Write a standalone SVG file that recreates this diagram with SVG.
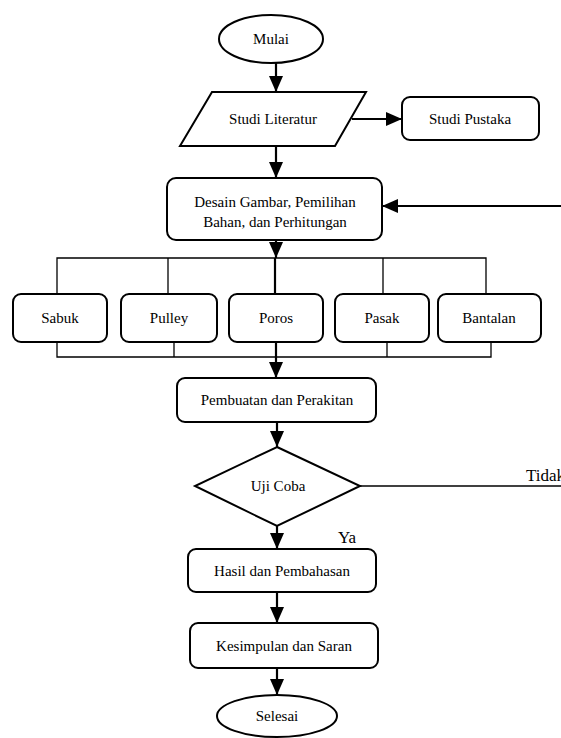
<svg xmlns="http://www.w3.org/2000/svg" width="561" height="738" viewBox="0 0 561 738">
<style>
.n{fill:#fff;stroke:#000;stroke-width:2}
.t{font-family:"Liberation Serif","Times New Roman",serif;font-size:15px;fill:#000;text-anchor:middle}
.lbl{font-family:"Liberation Serif","Times New Roman",serif;font-size:17px;fill:#000}
.c{fill:none;stroke:#000;stroke-width:2.2}
.b{fill:none;stroke:#000;stroke-width:1.3}
</style>
<defs>
<marker id="ah" viewBox="0 0 16 14" refX="16" refY="7" markerWidth="16" markerHeight="14" orient="auto" markerUnits="userSpaceOnUse">
<path d="M0,0 L16,7 L0,14 z" fill="#000"/>
</marker>
</defs>
<rect width="561" height="738" fill="#fff"/>
<g id="connectors">
<line class="c" x1="276" y1="63" x2="276" y2="92" marker-end="url(#ah)"/>
<line class="c" x1="352" y1="119" x2="402" y2="119" marker-end="url(#ah)"/>
<line class="c" x1="276" y1="146" x2="276" y2="178" marker-end="url(#ah)"/>
<line class="c" x1="561" y1="206" x2="382" y2="206" marker-end="url(#ah)"/>
<line class="c" x1="276" y1="240" x2="276" y2="258" marker-end="url(#ah)"/>
<polyline class="b" points="57,294 57,258 486,258 486,294"/>
<line class="b" x1="168" y1="258" x2="168" y2="294"/>
<line class="c" x1="275" y1="258" x2="275" y2="294"/>
<line class="b" x1="383" y1="258" x2="383" y2="294"/>
<polyline class="b" points="57,342 57,357 491,357 491,342"/>
<line class="b" x1="174" y1="342" x2="174" y2="357"/>
<line class="b" x1="387" y1="342" x2="387" y2="357"/>
<line class="c" x1="276" y1="342" x2="276" y2="378" marker-end="url(#ah)"/>
<line class="c" x1="277" y1="422" x2="277" y2="447" marker-end="url(#ah)"/>
<line class="b" x1="360" y1="486" x2="561" y2="486" style="stroke-width:1.6"/>
<line class="c" x1="277" y1="526" x2="277" y2="549" marker-end="url(#ah)"/>
<line class="c" x1="277" y1="592" x2="277" y2="623" marker-end="url(#ah)"/>
<line class="c" x1="277" y1="668" x2="277" y2="695" marker-end="url(#ah)"/>
<text class="lbl" x="526" y="481">Tidak</text>
<text class="lbl" x="338" y="543">Ya</text>
</g>
<g id="mulai"><ellipse class="n" cx="271" cy="39" rx="52" ry="24"/><text class="t" x="271" y="44">Mulai</text></g>
<g id="studi-literatur"><polygon class="n" points="212,92 366,92 335,146 180,146"/><text class="t" x="273" y="124">Studi Literatur</text></g>
<g id="studi-pustaka"><rect class="n" x="402" y="97" width="137" height="43" rx="8"/><text class="t" x="470" y="124">Studi Pustaka</text></g>
<g id="desain"><rect class="n" x="167" y="178" width="215" height="62" rx="9"/><text class="t" x="275" y="207">Desain Gambar, Pemilihan</text><text class="t" x="275" y="227">Bahan, dan Perhitungan</text></g>
<g id="sabuk"><rect class="n" x="13" y="294" width="94" height="48" rx="8"/><text class="t" x="60" y="323">Sabuk</text></g>
<g id="pulley"><rect class="n" x="121" y="294" width="96" height="48" rx="8"/><text class="t" x="169" y="323">Pulley</text></g>
<g id="poros"><rect class="n" x="229" y="294" width="94" height="48" rx="8"/><text class="t" x="276" y="323">Poros</text></g>
<g id="pasak"><rect class="n" x="335" y="294" width="94" height="48" rx="8"/><text class="t" x="382" y="323">Pasak</text></g>
<g id="bantalan"><rect class="n" x="438" y="294" width="103" height="48" rx="8"/><text class="t" x="489" y="323">Bantalan</text></g>
<g id="pembuatan"><rect class="n" x="177" y="378" width="199" height="44" rx="8"/><text class="t" x="277" y="405">Pembuatan dan Perakitan</text></g>
<g id="uji-coba"><polygon class="n" points="277,447 360,486 277,526 195,486"/><text class="t" x="278" y="491">Uji Coba</text></g>
<g id="hasil"><rect class="n" x="188" y="549" width="188" height="43" rx="8"/><text class="t" x="282" y="576">Hasil dan Pembahasan</text></g>
<g id="kesimpulan"><rect class="n" x="190" y="623" width="188" height="45" rx="8"/><text class="t" x="284" y="651">Kesimpulan dan Saran</text></g>
<g id="selesai"><ellipse class="n" cx="277" cy="716" rx="60" ry="21"/><text class="t" x="277" y="721">Selesai</text></g>
</svg>
